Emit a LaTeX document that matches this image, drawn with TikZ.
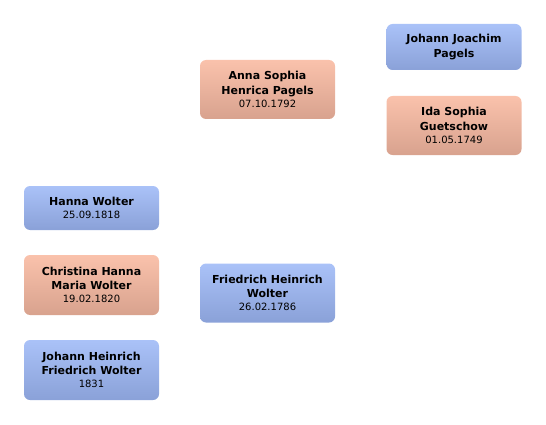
\documentclass[tikz,border=0pt]{standalone}
\usepackage{fontspec}
\setmainfont{DejaVu Sans}
\usepackage{tikz}
\definecolor{mtop}{RGB}{170,194,248}
\definecolor{mbot}{RGB}{138,161,216}
\definecolor{ftop}{RGB}{250,194,172}
\definecolor{fbot}{RGB}{216,162,142}
\newcommand{\dt}[1]{{\fontsize{10}{12}\selectfont #1}}
\begin{document}
\begin{tikzpicture}[x=1pt,y=-1pt,font=\fontsize{11}{14.5}\selectfont\bfseries,
  pb/.style={rounded corners=6pt,align=center,minimum width=135pt,minimum height=59pt,inner sep=1pt},
  male/.style={pb,top color=mtop,bottom color=mbot},
  female/.style={pb,top color=ftop,bottom color=fbot}]
  \useasboundingbox (0,0) rectangle (546,425);
  % grosseltern
  \node[male,minimum height=46pt] (jjp) at (454,47) {Johann Joachim\\Pagels};
  \node[female] (isg) at (454,125.5) {Ida Sophia\\Guetschow\\[-1.5pt]\mdseries\dt{01.05.1749}};
  % eltern
  \node[female] (asp) at (267.5,89.5) {Anna Sophia\\Henrica Pagels\\[-1.5pt]\mdseries\dt{07.10.1792}};
  \node[male] (fhw) at (267.5,293) {Friedrich Heinrich\\Wolter\\[-1.5pt]\mdseries\dt{26.02.1786}};
  % kinder
  \node[male,minimum height=44pt] (hw) at (91.5,208) {Hanna Wolter\\[-1.5pt]\mdseries\dt{25.09.1818}};
  \node[female,minimum height=60pt] (chmw) at (91.5,285) {Christina Hanna\\Maria Wolter\\[-1.5pt]\mdseries\dt{19.02.1820}};
  \node[male,minimum height=60pt] (jhfw) at (91.5,370) {Johann Heinrich\\Friedrich Wolter\\[-1.5pt]\mdseries\dt{1831}};
\end{tikzpicture}
\end{document}
